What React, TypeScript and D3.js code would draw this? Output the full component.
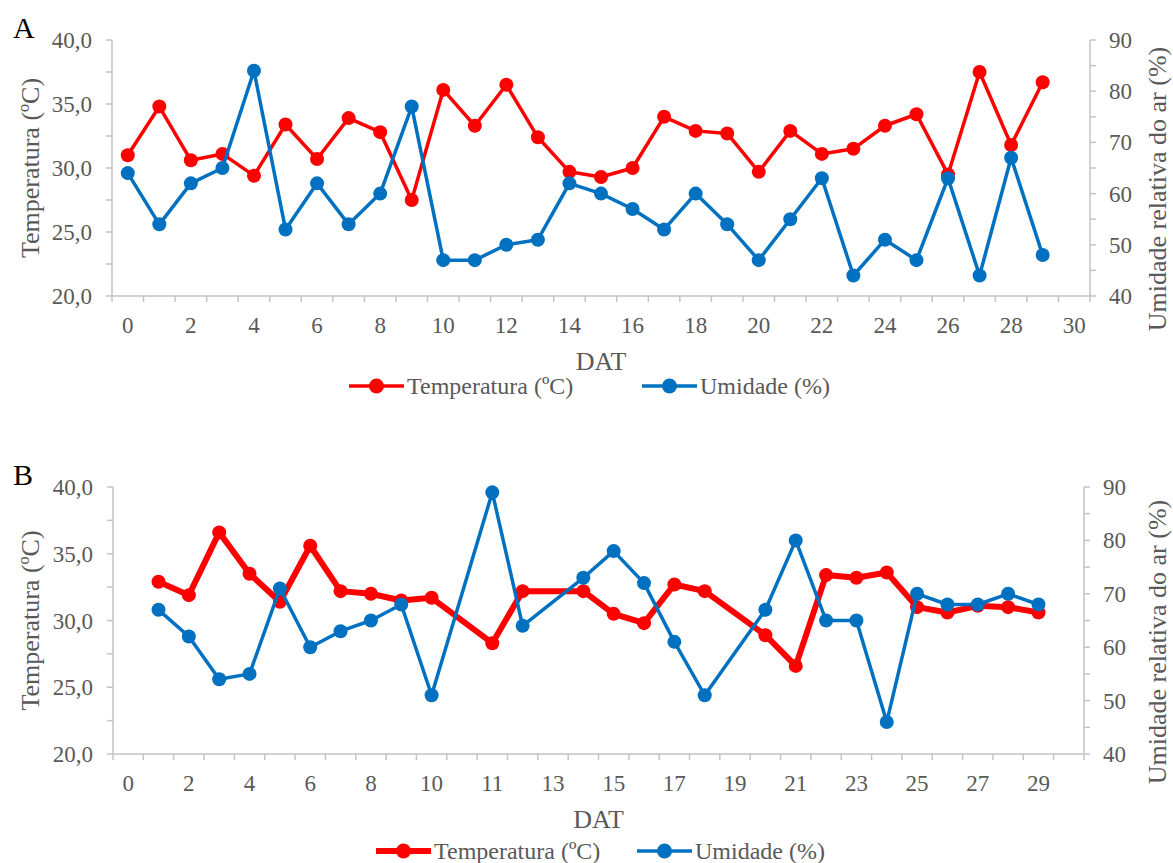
import React from 'react';
import * as d3 from 'd3';

// --- data ---
const datA = ['0', '1', '2', '3', '4', '5', '6', '7', '8', '9', '10', '11', '12', '13', '14', '15',
  '16', '17', '18', '19', '20', '21', '22', '23', '24', '25', '26', '27', '28', '29', '30'];
const tempA = [31.0, 34.8, 30.6, 31.1, 29.4, 33.4, 30.7, 33.9, 32.8, 27.5, 36.1, 33.3, 36.5, 32.4, 29.7,
  29.3, 30.0, 34.0, 32.9, 32.7, 29.7, 32.9, 31.1, 31.5, 33.3, 34.2, 29.5, 37.5, 31.8, 36.7, null];
const humA = [64, 54, 62, 65, 84, 53, 62, 54, 60, 77, 47, 47, 50, 51, 62,
  60, 57, 53, 60, 54, 47, 55, 63, 44, 51, 47, 63, 44, 67, 48, null];

const datB = ['0', '1', '2', '3', '4', '5', '6', '7', '8', '9', '10', '', '11', '12', '13', '14',
  '15', '16', '17', '18', '19', '20', '21', '22', '23', '24', '25', '26', '27', '28', '29', '30'];
const tempB = [null, 32.9, 31.9, 36.6, 33.5, 31.4, 35.6, 32.2, 32.0, 31.5, 31.7, null, 28.3, 32.2, null, 32.2,
  30.5, 29.8, 32.7, 32.2, null, 28.9, 26.6, 33.4, 33.2, 33.6, 31.0, 30.6, 31.1, 31.0, 30.6, null];
const humB = [null, 67, 62, 54, 55, 71, 60, 63, 65, 68, 51, null, 89, 64, null, 73,
  78, 72, 61, 51, null, 67, 80, 65, 65, 46, 70, 68, 68, 70, 68, null];

const tempTicks = [20, 22.5, 25, 27.5, 30, 32.5, 35, 37.5, 40];
const humTicks = [40, 45, 50, 55, 60, 65, 70, 75, 80, 85, 90];

const RED = '#FF0000';
const BLUE = '#0070C0';
const AXIS = '#C3C3C3';
const TXT = '#595959';
const FONT = '"Liberation Serif", "Times New Roman", serif';

type PanelProps = {
  letter: string;
  cats: string[];
  temp: (number | null)[];
  hum: (number | null)[];
  left: number; right: number; top: number; bottom: number;
  redWidth: number;
  rightTitleY: number;
  legend: { y: number; redX: number; blueX: number };
};

function Panel(p: PanelProps) {
  const idx = p.cats.map((_, i) => i);
  const x = d3.scaleBand<number>().domain(idx).range([p.left, p.right]);
  const yT = d3.scaleLinear().domain([20, 40]).range([p.bottom, p.top]);
  const yH = d3.scaleLinear().domain([40, 90]).range([p.bottom, p.top]);
  const cx = (i: number) => (x(i) as number) + x.bandwidth() / 2;

  const tPts = p.temp.map((v, i) => ({ i, v })).filter(d => d.v != null) as { i: number; v: number }[];
  const hPts = p.hum.map((v, i) => ({ i, v })).filter(d => d.v != null) as { i: number; v: number }[];
  const tLine = d3.line<{ i: number; v: number }>().x(d => cx(d.i)).y(d => yT(d.v))(tPts) || '';
  const hLine = d3.line<{ i: number; v: number }>().x(d => cx(d.i)).y(d => yH(d.v))(hPts) || '';
  const fmt = (v: number) => d3.format('.1f')(v).replace('.', ',');
  const midY = (p.top + p.bottom) / 2;
  const bounds = idx.map(i => x(i) as number).concat([p.right]);

  return (
    <g>
      <text x={13} y={p.top - 2} fontSize={30} fill="#000">{p.letter}</text>

      {/* left axis */}
      <line x1={p.left} x2={p.left} y1={p.top} y2={p.bottom} stroke={AXIS} strokeWidth={1.5} />
      {tempTicks.map(t => (
        <line key={'lt' + t} x1={p.left - 6} x2={p.left} y1={yT(t)} y2={yT(t)} stroke={AXIS} strokeWidth={1.5} />
      ))}
      {tempTicks.filter(t => t % 5 === 0).map(t => (
        <text key={'ll' + t} x={p.left - 20} y={yT(t)} dy="0.35em" textAnchor="end" fontSize={23} fill={TXT}>{fmt(t)}</text>
      ))}
      <text transform={`translate(30,${midY}) rotate(-90)`} textAnchor="middle" dominantBaseline="central"
        fontSize={26} fill={TXT}>Temperatura (ºC)</text>

      {/* right axis */}
      <line x1={p.right} x2={p.right} y1={p.top} y2={p.bottom} stroke={AXIS} strokeWidth={1.5} />
      {humTicks.map(t => (
        <line key={'rt' + t} x1={p.right} x2={p.right + 6} y1={yH(t)} y2={yH(t)} stroke={AXIS} strokeWidth={1.5} />
      ))}
      {humTicks.filter(t => t % 10 === 0).map(t => (
        <text key={'rl' + t} x={p.right + 19} y={yH(t)} dy="0.35em" textAnchor="start" fontSize={23} fill={TXT}>{t}</text>
      ))}
      <text transform={`translate(1157,${p.rightTitleY}) rotate(-90)`} textAnchor="middle" dominantBaseline="central"
        fontSize={26} fill={TXT}>Umidade relativa do ar (%)</text>

      {/* category axis */}
      <line x1={p.left} x2={p.right} y1={p.bottom} y2={p.bottom} stroke={AXIS} strokeWidth={1.5} />
      {bounds.map((b, k) => (
        <line key={'xt' + k} x1={b} x2={b} y1={p.bottom} y2={p.bottom + 6} stroke={AXIS} strokeWidth={1.5} />
      ))}
      {idx.filter(i => i % 2 === 0).map(i => (
        <text key={'xl' + i} x={cx(i)} y={p.bottom + 37} textAnchor="middle" fontSize={23} fill={TXT}>{p.cats[i]}</text>
      ))}
      <text x={(p.left + p.right) / 2} y={p.bottom + 74} textAnchor="middle" fontSize={26} fill={TXT}>DAT</text>

      {/* series */}
      <path d={tLine} fill="none" stroke={RED} strokeWidth={p.redWidth} strokeLinejoin="round" />
      {tPts.map(d => <circle key={'tc' + d.i} cx={cx(d.i)} cy={yT(d.v)} r={7} fill={RED} />)}
      <path d={hLine} fill="none" stroke={BLUE} strokeWidth={3.5} strokeLinejoin="round" />
      {hPts.map(d => <circle key={'hc' + d.i} cx={cx(d.i)} cy={yH(d.v)} r={7} fill={BLUE} />)}

      {/* legend */}
      <line x1={p.legend.redX} x2={p.legend.redX + 55} y1={p.legend.y} y2={p.legend.y} stroke={RED} strokeWidth={p.redWidth} />
      <circle cx={p.legend.redX + 27.5} cy={p.legend.y} r={7.5} fill={RED} />
      <text x={p.legend.redX + 58} y={p.legend.y} dy="0.33em" fontSize={24} fill={TXT}>Temperatura (ºC)</text>
      <line x1={p.legend.blueX} x2={p.legend.blueX + 55} y1={p.legend.y} y2={p.legend.y} stroke={BLUE} strokeWidth={3.5} />
      <circle cx={p.legend.blueX + 27.5} cy={p.legend.y} r={7.5} fill={BLUE} />
      <text x={p.legend.blueX + 58} y={p.legend.y} dy="0.33em" fontSize={24} fill={TXT}>Umidade (%)</text>
    </g>
  );
}

export default function App() {
  return (
    <svg width={1173} height={863} style={{ position: 'absolute', left: 0, top: 0, background: '#fff' }}
      fontFamily={FONT}>
      <Panel letter="A" cats={datA} temp={tempA} hum={humA}
        left={112} right={1090} top={40} bottom={296} redWidth={3.5} rightTitleY={189}
        legend={{ y: 386, redX: 349, blueX: 642 }} />
      <Panel letter="B" cats={datB} temp={tempB} hum={humB}
        left={113} right={1084} top={487} bottom={754} redWidth={6} rightTitleY={642}
        legend={{ y: 851, redX: 376, blueX: 637 }} />
    </svg>
  );
}
